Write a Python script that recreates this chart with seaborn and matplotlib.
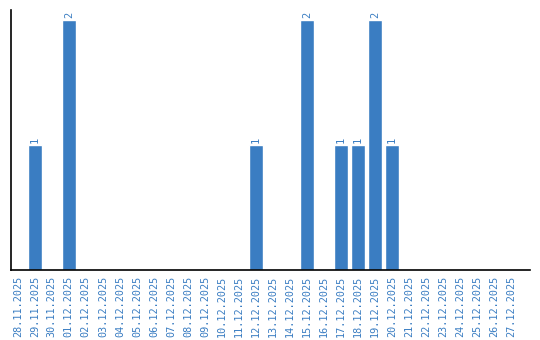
import matplotlib
matplotlib.use("Agg")
import matplotlib.pyplot as plt
import seaborn as sns
import pandas as pd

dates = ["28.11.2025", "29.11.2025", "30.11.2025", "01.12.2025", "02.12.2025",
         "03.12.2025", "04.12.2025", "05.12.2025", "06.12.2025", "07.12.2025",
         "08.12.2025", "09.12.2025", "10.12.2025", "11.12.2025", "12.12.2025",
         "13.12.2025", "14.12.2025", "15.12.2025", "16.12.2025", "17.12.2025",
         "18.12.2025", "19.12.2025", "20.12.2025", "21.12.2025", "22.12.2025",
         "23.12.2025", "24.12.2025", "25.12.2025", "26.12.2025", "27.12.2025"]
counts = [0, 1, 0, 2, 0, 0, 0, 0, 0, 0, 0, 0, 0, 0, 1,
          0, 0, 2, 0, 1, 1, 2, 1, 0, 0, 0, 0, 0, 0, 0]

df = pd.DataFrame({"date": dates, "count": counts})

sns.set_style("white")
blue = "#3a7dc2"

fig = plt.figure(figsize=(5.4, 3.4), dpi=100)
ax = fig.add_axes([11/540, 70/340, (530-11)/540, (270-10)/340])
sns.barplot(data=df, x="date", y="count", color=blue, width=0.86, saturation=1, ax=ax)

for i, v in enumerate(counts):
    if v > 0:
        ax.text(i, v + 0.02, str(v), rotation=90, ha="center", va="bottom",
                color=blue, fontsize=7.5, family="DejaVu Sans Mono")

ax.set_xlim(-0.4, 30.1)
ax.set_ylim(0, 2.08)
ax.set_xlabel("")
ax.set_ylabel("")
ax.set_yticks([])
ax.tick_params(axis="x", length=0, pad=4)
plt.setp(ax.get_xticklabels(), rotation=90, color=blue, fontsize=7.3, family="DejaVu Sans Mono")
for s in ["top", "right"]:
    ax.spines[s].set_visible(False)
for s in ["left", "bottom"]:
    ax.spines[s].set_color("black")
    ax.spines[s].set_linewidth(1.2)

fig.savefig("out.png", dpi=100)
